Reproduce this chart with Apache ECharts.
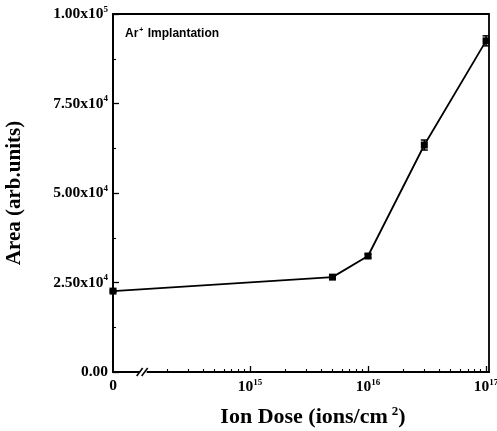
<!DOCTYPE html>
<html><head><meta charset="utf-8">
<script src="https://cdn.jsdelivr.net/npm/echarts@6/dist/echarts.min.js"></script>
<style>html,body{margin:0;padding:0;background:#fff}#c{width:497px;height:431px}</style>
</head><body><div id="c"></div>
<script>
// ---- data ----
var doses = [0, 5e15, 1e16, 3e16, 1e17];           // ions/cm^2
var areas = [22600, 26500, 32400, 63400, 92500];   // arb. units
var errors = [300, 400, 500, 1400, 1400];
var xMajorExponents = [15, 16, 17];
var yTicks = [0, 25000, 50000, 75000, 100000];
var xTitle = 'Ion Dose (ions/cm';
var yTitle = 'Area (arb.units)';

var X_MIN = 13.84, X_MAX = 17.025;
function xPos(d){ return d === 0 ? X_MIN : Math.log10(d); }

var minorVals = [];
[14,15,16].forEach(function(e){ for (var k=2;k<=9;k++){ minorVals.push(e + Math.log10(k)); } });
var majorVals = [X_MIN].concat(xMajorExponents);

var lineData = doses.map(function(d,i){ return [xPos(d), areas[i]]; });
var errData = doses.map(function(d,i){ return [xPos(d), areas[i]-errors[i], areas[i]+errors[i]]; });

var font = 'Liberation Serif';
var chart = echarts.init(document.getElementById('c'), null, {renderer:'canvas'});
var rich = {
  b:{fontFamily:font,fontWeight:'bold',fontSize:15.5,color:'#000'},
  s:{fontFamily:font,fontWeight:'bold',fontSize:9,color:'#000',verticalAlign:'top',padding:[0,0,9,0]}
};
function yLabel(v){
  if (v === 0) return '{b|0.00}';
  var e = Math.floor(Math.log10(v));
  var m = (v/Math.pow(10,e)).toFixed(2);
  return '{b|' + m + 'x10}{s|' + e + '}';
}
var titleRich = {b:{fontFamily:font,fontWeight:'bold',fontSize:22,color:'#000'},
            s:{fontFamily:font,fontWeight:'bold',fontSize:13,color:'#000',verticalAlign:'top',padding:[0,0,12,4]}};
chart.setOption({
  animation:false,
  grid:{left:113,right:8,top:14,bottom:59,show:true,borderColor:'#000',borderWidth:1.8,outerBoundsMode:'none',containLabel:false},
  xAxis:[{
    type:'value',min:X_MIN,max:X_MAX,
    axisLine:{show:true,onZero:false,lineStyle:{color:'#000',width:1.8}},
    splitLine:{show:false},
    axisTick:{show:true,inside:true,length:6,lineStyle:{color:'#000',width:1.3},customValues:xMajorExponents},
    axisLabel:{customValues:majorVals,margin:6,rich:rich,
      formatter:function(v){ return Math.abs(v-X_MIN)<1e-6 ? '{b|0}' : '{b|10}{s|'+Math.round(v)+'}'; }},
    name:'{b|'+xTitle+'}{s|2}{b|)}',nameLocation:'middle',nameGap:33,
    nameTextStyle:{padding:[0,0,0,24],rich:titleRich}
  },{
    type:'value',min:X_MIN,max:X_MAX,position:'bottom',
    axisLine:{show:false},splitLine:{show:false},axisLabel:{show:false},
    axisTick:{show:true,inside:true,length:3,lineStyle:{color:'#000',width:1.1},customValues:minorVals}
  }],
  yAxis:{
    type:'value',min:0,max:100000,interval:25000,
    axisLine:{show:true,lineStyle:{color:'#000',width:1.8}},
    splitLine:{show:false},
    axisTick:{show:true,inside:true,length:6,lineStyle:{color:'#000',width:1.3}},
    minorTick:{show:true,splitNumber:2,length:3,lineStyle:{color:'#000',width:1.1}},
    axisLabel:{margin:5,rich:rich,formatter:yLabel},
    name:yTitle,nameLocation:'middle',nameGap:88,nameRotate:90,
    nameTextStyle:{fontFamily:font,fontWeight:'bold',fontSize:21,color:'#000'}
  },
  series:[{
    type:'line',data:lineData,xAxisIndex:0,symbol:'rect',symbolSize:7,
    lineStyle:{color:'#000',width:1.8},itemStyle:{color:'#000'},z:3
  },{
    type:'custom',xAxisIndex:0,data:errData,z:4,
    renderItem:function(params,api){
      var x = api.coord([api.value(0),api.value(1)]);
      var y2 = api.coord([api.value(0),api.value(2)]);
      var hw = 3.5;
      return {type:'group',children:[
        {type:'line',shape:{x1:x[0],y1:x[1],x2:y2[0],y2:y2[1]},style:{stroke:'#000',lineWidth:1.5}},
        {type:'line',shape:{x1:x[0]-hw,y1:x[1],x2:x[0]+hw,y2:x[1]},style:{stroke:'#000',lineWidth:1.5}},
        {type:'line',shape:{x1:y2[0]-hw,y1:y2[1],x2:y2[0]+hw,y2:y2[1]},style:{stroke:'#000',lineWidth:1.5}}
      ]};
    }
  }]
});
// axis break mark and annotation
var bx = chart.convertToPixel({xAxisIndex:0}, 14.1);
var by = chart.convertToPixel({yAxisIndex:0}, 0);
chart.setOption({graphic:[{type:'text',left:125,top:27,
    style:{text:'{a|Ar}{p|+}{a| Implantation}',rich:{
      a:{fontFamily:'Liberation Sans',fontWeight:'bold',fontSize:12,fill:'#000'},
      p:{fontFamily:'Liberation Sans',fontWeight:'bold',fontSize:7,fill:'#000',verticalAlign:'top',padding:[0,1,6,1]}}}},
  {type:'rect',shape:{x:bx-4,y:by-3,width:7,height:5},style:{fill:'#fff'},z:100},
  {type:'line',shape:{x1:bx-7,y1:by+4,x2:bx-1,y2:by-4},style:{stroke:'#000',lineWidth:1.6},z:101},
  {type:'line',shape:{x1:bx-2,y1:by+4,x2:bx+4,y2:by-4},style:{stroke:'#000',lineWidth:1.6},z:101}
]});
</script></body></html>
